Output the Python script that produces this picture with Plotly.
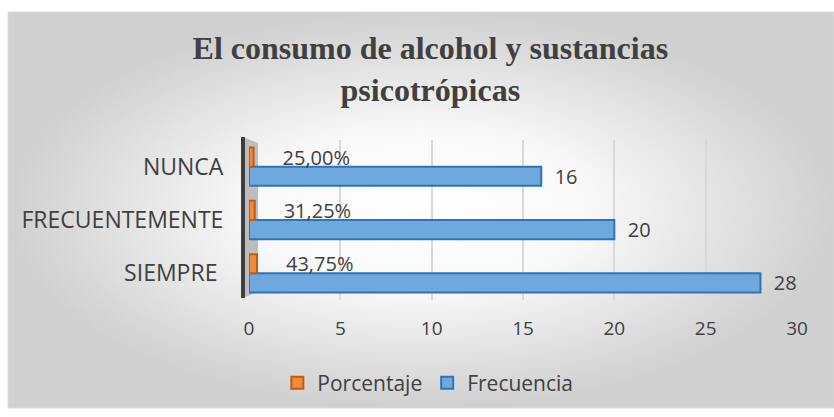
import plotly.graph_objects as go

categorias = ["SIEMPRE\u00a0", "FRECUENTEMENTE", "NUNCA"]
frecuencia = [28, 20, 16]
porcentaje = [0.4375, 0.3125, 0.25]
porcentaje_txt = ["43,75%", "31,25%", "25,00%"]
ticks_x = [0, 5, 10, 15, 20, 25, 30]

W, H = 834, 417
font_txt = "Open Sans"
gris_txt = "#404040"

fig = go.Figure()

# background layer in pixel coordinates (subplot xy, drawn below the bars)
fig.add_trace(go.Scatter(
    x=[8, 834, 834, 8, 8], y=[12, 12, 408, 408, 12],
    mode="lines", fill="toself", line=dict(color="#d9d9d9", width=1),
    fillgradient=dict(type="radial",
                      colorscale=[[0, "#ffffff"], [0.4, "#f9f9f9"], [1, "#d0d0d0"]]),
    hoverinfo="skip", showlegend=False, xaxis="x", yaxis="y",
))
# 3D wall
fig.add_trace(go.Scatter(
    x=[243, 258, 258, 243, 243], y=[137, 143, 292, 298, 137],
    mode="lines", fill="toself", fillcolor="#bdbdbd", line=dict(width=0),
    hoverinfo="skip", showlegend=False, xaxis="x", yaxis="y",
))
fig.add_trace(go.Scatter(
    x=[243, 243], y=[137, 298], mode="lines",
    line=dict(color="#3f3f3f", width=4),
    hoverinfo="skip", showlegend=False, xaxis="x", yaxis="y",
))

fig.add_trace(go.Bar(
    y=categorias, x=frecuencia, orientation="h", name="Frecuencia",
    marker=dict(color="#6fa8dc", line=dict(color="#2e75b6", width=2)),
    text=[str(v) for v in frecuencia], textposition="outside",
    texttemplate="\u00a0\u00a0%{text}", constraintext="none",
    textfont=dict(family=font_txt, size=20, color=gris_txt),
    cliponaxis=False, xaxis="x2", yaxis="y2", legendrank=2,
))
fig.add_trace(go.Bar(
    y=categorias, x=porcentaje, orientation="h", name="Porcentaje",
    marker=dict(color="#f08a3c", line=dict(color="#c55a11", width=2)),
    text=porcentaje_txt, textposition="outside",
    texttemplate="\u00a0\u00a0\u00a0\u00a0\u00a0%{text}", constraintext="none",
    textfont=dict(family=font_txt, size=20, color=gris_txt),
    cliponaxis=False, xaxis="x2", yaxis="y2", legendrank=1,
))

fig.update_layout(
    width=W, height=H,
    margin=dict(l=0, r=0, t=0, b=0, autoexpand=False),
    paper_bgcolor="white", plot_bgcolor="rgba(0,0,0,0)",
    barmode="group", bargap=0.28, bargroupgap=0,
    title=dict(
        text="<b>El consumo de alcohol y sustancias<br>psicotrópicas</b>",
        x=0.516, xanchor="center", y=0.858, yanchor="middle",
        font=dict(family="Liberation Serif", size=32, color=gris_txt),
    ),
    xaxis=dict(domain=[0, 1], range=[0, W], visible=False, fixedrange=True,
               automargin=False),
    yaxis=dict(domain=[0, 1], range=[H, 0], visible=False, fixedrange=True,
               automargin=False),
    xaxis2=dict(
        domain=[249 / W, 797 / W], anchor="y2", range=[0, 30],
        tickvals=ticks_x, showgrid=True, gridcolor="#d9d9d9", gridwidth=1.5,
        zeroline=False, showline=False, automargin=False,
        ticks="outside", ticklen=11, tickcolor="rgba(0,0,0,0)",
        tickfont=dict(family=font_txt, size=19, color=gris_txt),
    ),
    yaxis2=dict(
        domain=[1 - 300 / H, 1 - 140 / H], anchor="x2",
        showgrid=False, zeroline=False, showline=False, automargin=False,
        ticks="outside", ticklen=20, tickcolor="rgba(0,0,0,0)",
        tickfont=dict(family=font_txt, size=23, color=gris_txt),
    ),
    legend=dict(
        orientation="h", x=0.513, xanchor="center", y=1 - 383 / H, yanchor="middle",
        font=dict(family=font_txt, size=21, color=gris_txt),
        bgcolor="rgba(0,0,0,0)",
    ),
    showlegend=True,
)

fig.write_html(
    "out.html",
    config={"displayModeBar": False},
    post_script="document.body.style.margin='0';",
)
